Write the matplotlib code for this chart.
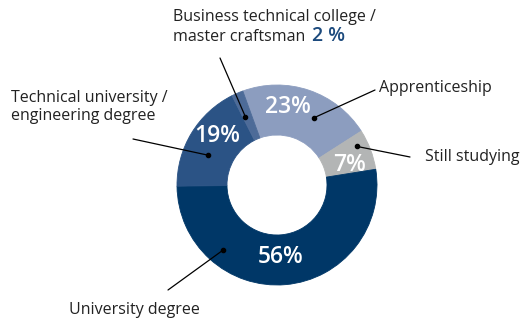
import numpy as np
import matplotlib.pyplot as plt

plt.rcParams['font.family'] = ['Open Sans', 'DejaVu Sans']

categories = ["Apprenticeship", "Still studying", "University degree",
              "Technical university /\nengineering degree",
              "Business technical college /\nmaster craftsman"]
shares = [23, 7, 56, 19, 2]
colors = ["#8c9dbf", "#b3b5b5", "#003767", "#2b5385", "#4d6b98"]

W, H = 525, 320
fig = plt.figure(figsize=(W / 100, H / 100), dpi=100)

# donut centred at (277, 185) px, outer radius 100 px
cx, cy, R = 277, 185, 100
ax = fig.add_axes([(cx - R) / W, (H - cy - R) / H, 2 * R / W, 2 * R / H])

wedges, _ = ax.pie(shares, colors=colors, startangle=110, counterclock=False,
                   radius=1, wedgeprops=dict(width=0.5, linewidth=0.6))
for w, c in zip(wedges, colors):
    w.set_edgecolor(c)

# pie() resets the limits, so fix them afterwards
ax.set_xlim(-1, 1)
ax.set_ylim(-1, 1)
ax.set_aspect("equal")
ax.axis("off")


def polar(angle, r):
    a = np.deg2rad(angle)
    return r * np.cos(a), r * np.sin(a)


mids = [(w.theta1 + w.theta2) / 2 for w in wedges]

# white percentage labels inside the ring (the thin 2% slice is labelled outside)
pct_nudge = [11, -5, -2, -8]
pct_r = [0.79, 0.75, 0.72, 0.77]
for i in range(4):
    x, y = polar(mids[i] + pct_nudge[i], pct_r[i])
    ax.text(x, y, f"{shares[i]}%", color="white", fontsize=16.5,
            fontweight="semibold", ha="center", va="center")

# leader lines: dot inside the slice -> label outside
dot_nudge = [-10, 5, -44.5, 8, 1.5]
dot_r = [0.765, 0.886, 0.845, 0.756, 0.75]
line_ends = [(375, 90), (410, 157), (168, 290), (133, 139), (220, 58)]
for i in range(5):
    xy = polar(mids[i] + dot_nudge[i], dot_r[i])
    ax.annotate("", xy=xy, xycoords="data",
                xytext=(line_ends[i][0], H - line_ends[i][1]),
                textcoords="figure pixels",
                arrowprops=dict(arrowstyle="-", color="black", lw=0.9,
                                shrinkA=0, shrinkB=0),
                annotation_clip=False)
    ax.plot(*xy, "o", color="black", ms=3, clip_on=False)


def put(x, y, s, **kw):
    style = dict(color="#222222", fontsize=11.5, va="center", ha="left")
    style.update(kw)
    fig.text(x / W, 1 - y / H, s, **style)


put(379, 88, categories[0])
put(425, 157, categories[1])
put(69, 310, categories[2])
put(11, 107, categories[3], linespacing=1.25)
put(173, 17, "Business technical college /")
put(173, 37, "master craftsman")
put(312, 36, f"{shares[4]} %", color="#1c4a7d", fontsize=14, fontweight="semibold")

fig.savefig("out.png", dpi=100)
